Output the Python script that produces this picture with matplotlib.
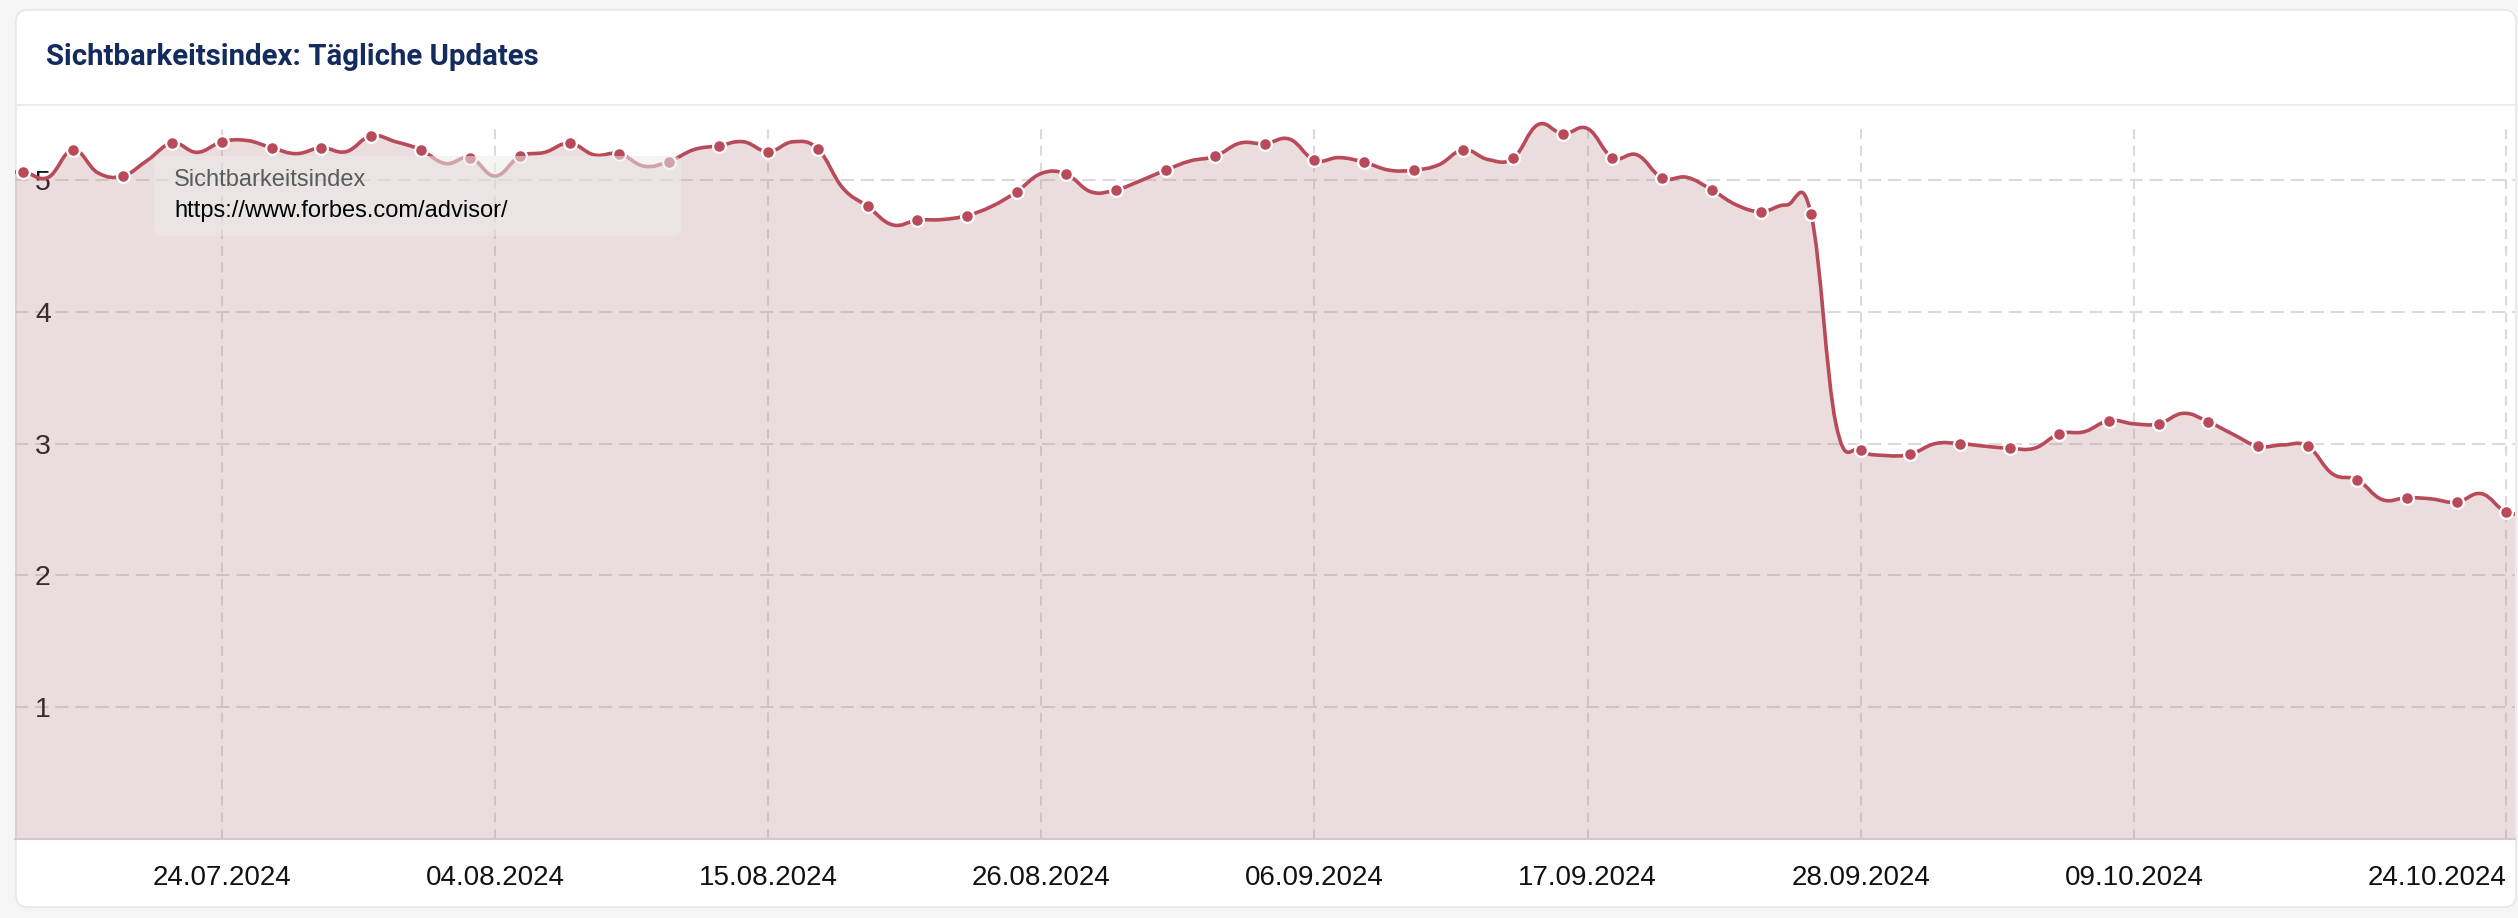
import numpy as np
import pandas as pd
import matplotlib
matplotlib.use("Agg")
import matplotlib.pyplot as plt
import matplotlib.dates as mdates
from matplotlib.path import Path
from matplotlib.patches import PathPatch, FancyBboxPatch
from matplotlib.lines import Line2D
from matplotlib.transforms import IdentityTransform

plt.rcParams['font.family'] = ['Liberation Sans', 'DejaVu Sans']
plt.rcParams['lines.scale_dashes'] = False

# daily visibility index, first value is 15.07.2024
first_day = "2024-07-15"
sichtbarkeit = [
    5.05, 5.06, 5.02, 5.23, 5.055, 5.03, 5.15, 5.28, 5.21, 5.29,
    5.30, 5.245, 5.20, 5.245, 5.215, 5.335, 5.29, 5.23, 5.125, 5.17,
    5.03, 5.18, 5.21, 5.28, 5.19, 5.20, 5.105, 5.14, 5.23, 5.26,
    5.29, 5.215, 5.29, 5.235, 4.94, 4.80, 4.66, 4.695, 4.70, 4.73,
    4.80, 4.91, 5.05, 5.045, 4.91, 4.925, 4.995, 5.075, 5.145, 5.18,
    5.28, 5.275, 5.31, 5.15, 5.17, 5.135, 5.075, 5.075, 5.115, 5.23,
    5.155, 5.165, 5.42, 5.35, 5.39, 5.17, 5.19, 5.015, 5.02, 4.925,
    4.81, 4.76, 4.81, 4.74, 3.15, 2.95, 2.91, 2.92, 3.00, 3.00,
    2.98, 2.965, 2.965, 3.075, 3.09, 3.175, 3.15, 3.15, 3.23, 3.165,
    3.07, 2.98, 2.99, 2.98, 2.77, 2.725, 2.575, 2.59, 2.58, 2.555,
    2.62, 2.48, 2.47,
]
tick_days = ["2024-07-24", "2024-08-04", "2024-08-15", "2024-08-26", "2024-09-06",
             "2024-09-17", "2024-09-28", "2024-10-09", "2024-10-24"]
tick_labels = ["24.07.2024", "04.08.2024", "15.08.2024", "26.08.2024", "06.09.2024",
               "17.09.2024", "28.09.2024", "09.10.2024", "24.10.2024"]
y_ticks = [1, 2, 3, 4, 5]
title = "Sichtbarkeitsindex: Tägliche Updates"
tooltip_lines = ["Sichtbarkeitsindex", "https://www.forbes.com/advisor/"]

W, H = 2518, 918
LINE = "#b84a59"
FILL = "#b3777f"
GRID = "#dadada"


def spline_path(x, y):
    # cubic bezier through every point, tangents from neighbours (like the web chart)
    verts = [(x[0], y[0])]
    codes = [Path.MOVETO]
    n = len(x)
    for i in range(n - 1):
        xp, yp = (x[i - 1], y[i - 1]) if i > 0 else (x[i], y[i])
        xn, yn = (x[i + 2], y[i + 2]) if i + 2 < n else (x[i + 1], y[i + 1])
        c1 = (x[i] + (x[i + 1] - xp) / 5, y[i] + (y[i + 1] - yp) / 5)
        c2 = (x[i + 1] - (xn - x[i]) / 5, y[i + 1] - (yn - y[i]) / 5)
        verts += [c1, c2, (x[i + 1], y[i + 1])]
        codes += [Path.CURVE4] * 3
    return verts, codes


dates = pd.date_range(first_day, periods=len(sichtbarkeit), freq="D")
xs = mdates.date2num(dates.to_pydatetime())
ys = np.array(sichtbarkeit)
tick_x = mdates.date2num(pd.to_datetime(tick_days).to_pydatetime())

fig = plt.figure(figsize=(W / 100, H / 100), dpi=100)
fig.patch.set_facecolor("#f5f5f5")
px = IdentityTransform()

# card + header
fig.add_artist(FancyBboxPatch((16, H - 907), 2500, 897, boxstyle="round,pad=0,rounding_size=12",
                              transform=px, fc="white", ec="#e4e4e4", lw=1.0, zorder=-5))
fig.add_artist(Line2D([15, 2516], [H - 105, H - 105], transform=px, color="#ebebeb", lw=1.5))
fig.text(46 / W, 1 - 57 / H, title, fontsize=21.2, fontweight="bold", family=["Roboto", "DejaVu Sans"],
         color="#142b5e", ha="left", va="center")

# plot area
left, right, top, bottom = 15, 2515, 118, 839
ax = fig.add_axes([left / W, 1 - bottom / H, (right - left) / W, (bottom - top) / H])
ax.set_facecolor("none")
px_per_day = 24.83
day0_px = -1.5
ax.set_xlim(xs[0] + (left - day0_px) / px_per_day, xs[0] + (right - day0_px) / px_per_day)
ax.set_ylim(0, (bottom - top) / 131.8)

ax.hlines(y_ticks, *ax.get_xlim(), color=GRID, lw=1.5, ls=(0, (9.5, 5)), zorder=1)
ax.vlines(tick_x, 0, (bottom - 126) / 131.8, color=GRID, lw=1.5, ls=(0, (7, 5)), zorder=1)

v, c = spline_path(xs, ys)
fill_v = v + [(xs[-1], 0), (xs[0], 0), (xs[0], ys[0])]
fill_c = c + [Path.LINETO, Path.LINETO, Path.CLOSEPOLY]
ax.add_patch(PathPatch(Path(fill_v, fill_c), fc=FILL, alpha=0.25, ec="none", zorder=2))
ax.add_patch(PathPatch(Path(v, c), fc="none", ec=LINE, lw=2.6, zorder=3,
                       capstyle="round", joinstyle="round"))
ax.plot(xs[1::2], ys[1::2], "o", ms=9.2, mfc=LINE, mec="white", mew=1.6, zorder=4)

for s in ["top", "left", "right"]:
    ax.spines[s].set_visible(False)
ax.spines["bottom"].set_color("#d2c9ca")
ax.spines["bottom"].set_linewidth(1.5)

ax.set_xticks(tick_x)
ax.set_xticklabels(tick_labels)
ax.set_yticks(y_ticks)
ax.set_yticklabels([str(t) for t in y_ticks])
ax.tick_params(axis="x", length=0, pad=18.5, labelsize=20, labelcolor="#111111")
ax.tick_params(axis="y", length=0, pad=-14.4, labelsize=20.5, labelcolor="#111111")
for lbl in ax.get_yticklabels():
    lbl.set_horizontalalignment("left")
ax.get_xticklabels()[-1].set_horizontalalignment("right")

# hover box left over the chart
fig.add_artist(FancyBboxPatch((154, H - 236), 527, 80, boxstyle="round,pad=0,rounding_size=8",
                              transform=px, fc="#ebebeb", alpha=0.55, ec="none", zorder=5))
fig.text(174 / W, 1 - 180 / H, tooltip_lines[0], fontsize=17, color="#5a5a5a",
         ha="left", va="center", zorder=6)
fig.text(174 / W, 1 - 211 / H, tooltip_lines[1], fontsize=17, color="#000000",
         ha="left", va="center", zorder=6)

fig.savefig("out.png", dpi=100, facecolor=fig.get_facecolor())
